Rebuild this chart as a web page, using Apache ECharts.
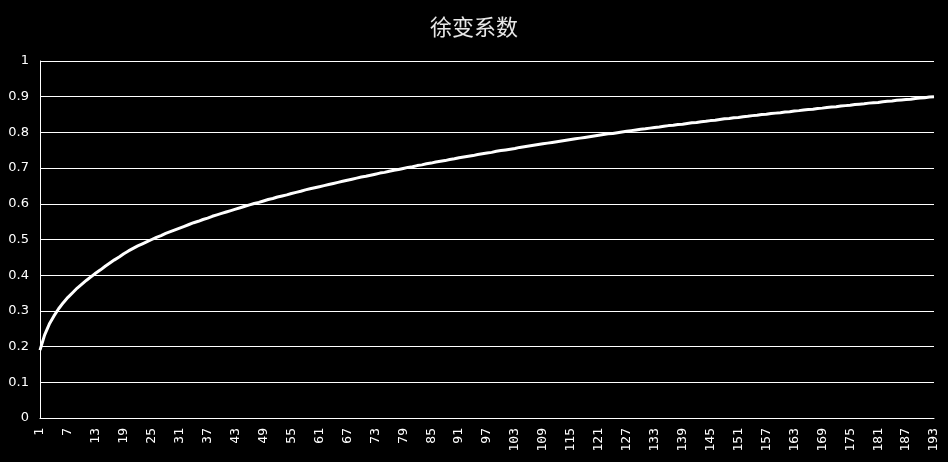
<!DOCTYPE html>
<html>
<head>
<meta charset="utf-8">
<script src="https://cdn.jsdelivr.net/npm/echarts@6/dist/echarts.min.js"></script>
<style>
html,body{margin:0;padding:0;background:#000;}
#chart{width:948px;height:462px;}
</style>
</head>
<body>
<div id="chart"></div>
<script>
const titleText = '徐变系数';
const categories = [];
for (let i = 1; i <= 193; i++) categories.push(String(i));
const creepValues = [
0.190,0.233,0.263,0.286,0.306,0.323,0.338,0.351,0.364,0.375,
0.386,0.396,0.406,0.415,0.425,0.434,0.443,0.451,0.460,0.468,
0.475,0.482,0.488,0.494,0.500,0.506,0.511,0.517,0.522,0.527,
0.532,0.537,0.542,0.547,0.551,0.556,0.560,0.565,0.569,0.573,
0.577,0.581,0.585,0.589,0.593,0.597,0.601,0.604,0.608,0.612,
0.615,0.619,0.622,0.625,0.629,0.632,0.635,0.639,0.642,0.645,
0.648,0.651,0.654,0.657,0.660,0.663,0.666,0.669,0.672,0.675,
0.677,0.680,0.683,0.686,0.688,0.691,0.694,0.696,0.699,0.702,
0.704,0.707,0.709,0.712,0.714,0.717,0.719,0.721,0.724,0.726,
0.729,0.731,0.733,0.735,0.738,0.740,0.742,0.744,0.747,0.749,
0.751,0.753,0.755,0.758,0.760,0.762,0.764,0.766,0.768,0.770,
0.772,0.774,0.776,0.778,0.780,0.782,0.784,0.786,0.788,0.790,
0.792,0.794,0.796,0.797,0.799,0.801,0.803,0.805,0.807,0.809,
0.810,0.812,0.814,0.815,0.817,0.819,0.820,0.822,0.823,0.825,
0.827,0.828,0.830,0.831,0.833,0.834,0.836,0.838,0.839,0.841,
0.842,0.844,0.845,0.847,0.848,0.850,0.851,0.853,0.854,0.855,
0.857,0.858,0.860,0.861,0.863,0.864,0.865,0.867,0.868,0.870,
0.871,0.872,0.874,0.875,0.876,0.878,0.879,0.880,0.882,0.883,
0.884,0.886,0.887,0.888,0.890,0.891,0.892,0.893,0.895,0.896,
0.897,0.899,0.900
];
const yMin = 0, yMax = 1, yStep = 0.1;

const chart = echarts.init(document.getElementById('chart'), null, {renderer: 'canvas'});
chart.setOption({
  backgroundColor: '#000',
  animation: false,
  title: {
    text: titleText,
    left: 'center',
    top: 11,
    textStyle: {color: '#e8e8e8', fontSize: 22, fontWeight: 'normal', fontFamily: '"Noto Sans CJK SC", sans-serif'}
  },
  grid: {left: 40, right: 14, top: 61, bottom: 44, containLabel: false},
  xAxis: {
    type: 'category',
    data: categories,
    boundaryGap: false,
    axisLine: {show: true, lineStyle: {color: '#ffffff', width: 1}},
    axisTick: {show: false},
    axisLabel: {
      interval: 5,
      rotate: 90,
      color: '#ffffff',
      fontSize: 13,
      margin: 10,
      fontFamily: '"DejaVu Sans Mono", monospace'
    },
    splitLine: {show: false}
  },
  yAxis: {
    type: 'value',
    min: yMin,
    max: yMax,
    interval: yStep,
    axisLine: {show: true, lineStyle: {color: '#ffffff', width: 1}},
    axisTick: {show: false},
    axisLabel: {
      color: '#ffffff',
      fontSize: 13,
      margin: 11,
      fontFamily: '"DejaVu Sans", sans-serif',
      formatter: function (v) { return String(Math.round(v * 10) / 10); }
    },
    splitLine: {show: true, lineStyle: {color: '#ffffff', width: 1}}
  },
  series: [{
    type: 'line',
    data: creepValues,
    showSymbol: false,
    smooth: false,
    lineStyle: {color: '#ffffff', width: 3},
    itemStyle: {color: '#ffffff'}
  }]
});
</script>
</body>
</html>
